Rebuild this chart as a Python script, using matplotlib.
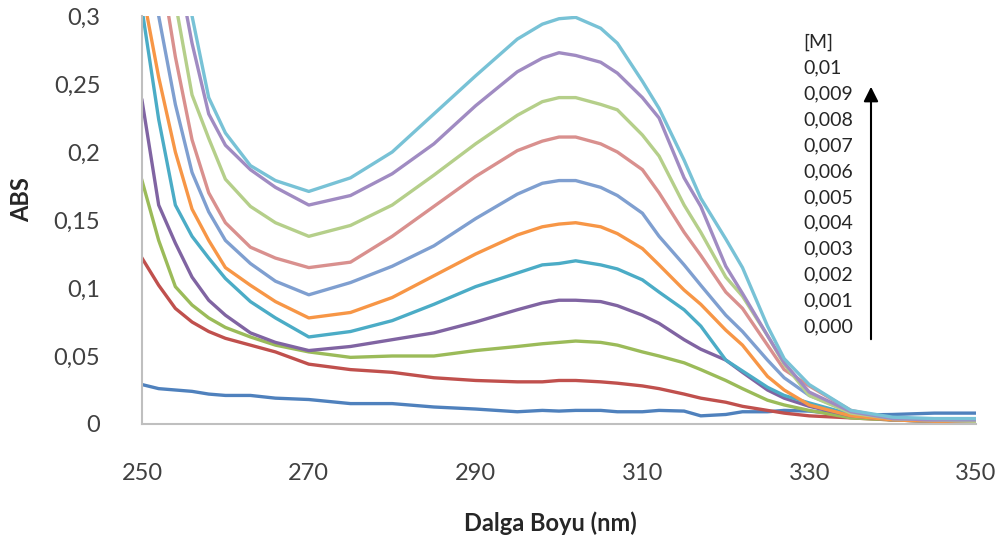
import matplotlib
matplotlib.use("Agg")
import matplotlib.pyplot as plt

plt.rcParams["font.family"] = ["Lato", "DejaVu Sans"]

# wavelength grid (nm) and absorbance
wl = [250, 252, 254, 256, 258, 260, 263, 266, 270, 275, 280, 285, 290, 295, 298, 300,
      302, 305, 307, 310, 312, 315, 317, 320, 322, 325, 327, 330, 335, 340, 345, 350]

abs_000 = [0.029, 0.026, 0.025, 0.024, 0.022, 0.021, 0.021, 0.019, 0.018, 0.015, 0.015, 0.0125, 0.011, 0.009, 0.010, 0.0095,
           0.010, 0.010, 0.009, 0.009, 0.010, 0.0095, 0.006, 0.007, 0.009, 0.009, 0.010, 0.0095, 0.0065, 0.007, 0.008, 0.008]
abs_001 = [0.122, 0.102, 0.085, 0.075, 0.068, 0.063, 0.058, 0.053, 0.044, 0.040, 0.038, 0.034, 0.032, 0.031, 0.031, 0.032,
           0.032, 0.031, 0.030, 0.028, 0.026, 0.022, 0.019, 0.016, 0.013, 0.010, 0.008, 0.006, 0.0045, 0.003, 0.002, 0.002]
abs_002 = [0.179, 0.135, 0.101, 0.0875, 0.078, 0.071, 0.064, 0.058, 0.053, 0.049, 0.050, 0.050, 0.054, 0.057, 0.059, 0.060,
           0.061, 0.060, 0.058, 0.053, 0.050, 0.045, 0.040, 0.032, 0.026, 0.0175, 0.014, 0.010, 0.0045, 0.003, 0.002, 0.002]
abs_003 = [0.238, 0.161, 0.133, 0.108, 0.091, 0.080, 0.067, 0.060, 0.054, 0.057, 0.062, 0.067, 0.075, 0.084, 0.089, 0.091,
           0.091, 0.090, 0.087, 0.080, 0.074, 0.062, 0.055, 0.047, 0.038, 0.025, 0.019, 0.013, 0.006, 0.003, 0.002, 0.002]
abs_004 = [0.305, 0.224, 0.161, 0.138, 0.122, 0.107, 0.090, 0.078, 0.064, 0.068, 0.076, 0.088, 0.101, 0.111, 0.117, 0.118,
           0.120, 0.117, 0.114, 0.106, 0.097, 0.084, 0.072, 0.047, 0.039, 0.027, 0.021, 0.0155, 0.007, 0.003, 0.002, 0.002]
abs_005 = [0.32, 0.255, 0.20, 0.158, 0.135, 0.115, 0.102, 0.090, 0.078, 0.082, 0.093, 0.109, 0.125, 0.139, 0.145, 0.147,
           0.148, 0.145, 0.140, 0.129, 0.117, 0.0985, 0.088, 0.069, 0.058, 0.035, 0.025, 0.014, 0.006, 0.003, 0.002, 0.002]
abs_006 = [0.36, 0.30, 0.235, 0.185, 0.156, 0.135, 0.118, 0.105, 0.095, 0.104, 0.116, 0.131, 0.151, 0.169, 0.177, 0.179,
           0.179, 0.174, 0.168, 0.155, 0.138, 0.117, 0.102, 0.080, 0.068, 0.047, 0.034, 0.021, 0.009, 0.004, 0.003, 0.002]
abs_007 = [0.39, 0.345, 0.27, 0.209, 0.170, 0.148, 0.130, 0.122, 0.115, 0.119, 0.138, 0.160, 0.182, 0.201, 0.208, 0.211,
           0.211, 0.206, 0.200, 0.187, 0.170, 0.141, 0.124, 0.097, 0.085, 0.058, 0.040, 0.028, 0.010, 0.004, 0.003, 0.002]
abs_008 = [0.42, 0.37, 0.31, 0.242, 0.210, 0.180, 0.160, 0.148, 0.138, 0.146, 0.161, 0.183, 0.206, 0.227, 0.237, 0.240,
           0.240, 0.235, 0.231, 0.2125, 0.197, 0.161, 0.141, 0.108, 0.094, 0.065, 0.044, 0.021, 0.008, 0.004, 0.003, 0.002]
abs_009 = [0.46, 0.41, 0.345, 0.280, 0.228, 0.205, 0.187, 0.174, 0.161, 0.168, 0.184, 0.206, 0.234, 0.259, 0.269, 0.273,
           0.271, 0.266, 0.258, 0.240, 0.225, 0.181, 0.160, 0.116, 0.096, 0.065, 0.045, 0.0235, 0.009, 0.004, 0.003, 0.003]
abs_010 = [0.50, 0.44, 0.37, 0.30, 0.24, 0.214, 0.190, 0.179, 0.171, 0.181, 0.200, 0.228, 0.256, 0.283, 0.294, 0.298,
           0.299, 0.291, 0.280, 0.252, 0.232, 0.194, 0.166, 0.136, 0.115, 0.072, 0.048, 0.029, 0.010, 0.005, 0.004, 0.004]

series = [abs_000, abs_001, abs_002, abs_003, abs_004, abs_005,
          abs_006, abs_007, abs_008, abs_009, abs_010]
colors = ["#4F81BD", "#C0504D", "#9BBB59", "#8064A2", "#4BACC6", "#F79646",
          "#7F9FD0", "#D9908E", "#B5CF8A", "#A08BC2", "#78C2D6"]

conc_labels = ["[M]", "0,01", "0,009", "0,008", "0,007", "0,006", "0,005",
               "0,004", "0,003", "0,002", "0,001", "0,000"]

yticks = [0, 0.05, 0.1, 0.15, 0.2, 0.25, 0.3]
ytick_labels = ["0", "0,05", "0,1", "0,15", "0,2", "0,25", "0,3"]
xticks = [250, 270, 290, 310, 330, 350]

W, H = 1005, 556
fig = plt.figure(figsize=(W / 100, H / 100), dpi=100)
ax = fig.add_axes([142 / W, 1 - 424 / H, (976 - 142) / W, (424 - 16) / H])

for vals, c in zip(series, colors):
    ax.plot(wl, vals, color=c, lw=2.4, solid_joinstyle="round")

ax.set_xlim(250, 350)
ax.set_ylim(0, 0.3)
ax.set_xticks(xticks)
ax.set_xticklabels([str(t) for t in xticks])
ax.set_yticks(yticks)
ax.set_yticklabels(ytick_labels)
ax.tick_params(length=0, labelsize=17, colors="#404040")
ax.tick_params(axis="x", pad=28)
ax.tick_params(axis="y", pad=30)

for s in ["top", "right"]:
    ax.spines[s].set_visible(False)
for s in ["left", "bottom"]:
    ax.spines[s].set_color("#BFBFBF")
    ax.spines[s].set_linewidth(1.5)

fig.text(22 / W, 1 - 200 / H, "ABS", rotation=90, fontsize=17, fontweight="bold",
         ha="center", va="center", color="#262626")
fig.text(550 / W, 1 - 523 / H, "Dalga Boyu (nm)", fontsize=17, fontweight="bold",
         ha="center", va="center", color="#262626")

# concentration labels with the arrow
for i, lab in enumerate(conc_labels):
    y = 42 + i * 25.9
    fig.text(803 / W, 1 - y / H, lab, fontsize=14, ha="left", va="center", color="#262626")

ax.annotate("", xy=(871 / W, 1 - 84 / H), xytext=(871 / W, 1 - 342 / H),
            xycoords="figure fraction", textcoords="figure fraction",
            arrowprops=dict(arrowstyle="-|>", color="black", lw=1.5, mutation_scale=22))

fig.savefig("out.png", dpi=100)
